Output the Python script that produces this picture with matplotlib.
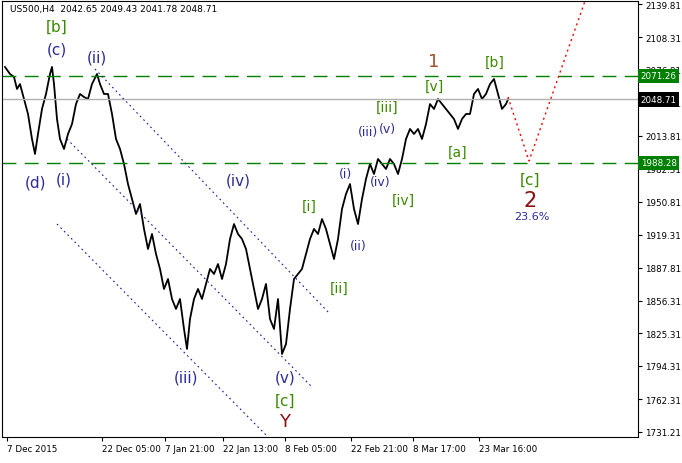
import matplotlib
matplotlib.use("Agg")
import matplotlib.pyplot as plt

bars = [3,8,12,15,18,22,26,30,33,36,40,44,48,50,52,55,58,62,66,70,74,78,82,86,90,95,98,102,106,110,114,118,122,126,130,134,138,142,146,150,154,158,162,166,170,174,178,182,185,188,192,196,200,204,208,212,216,220,224,228,232,236,240,244,248,252,256,260,264,268,272,276,280,284,288,292,296,300,304,308,312,316,320,324,328,332,336,340,344,348,352,356,360,364,368,372,376,380,384,388,392,396,400,404,408,412,416,420,424,428,432,436,440,444,448,452,456,460,464,468,472,476,480,484,488,492,496,500,504,506]
close = [2079.7,2073,2070.1,2058.7,2063.4,2049.1,2034.8,2010.9,1996.6,2015.7,2039.6,2053.9,2073,2079.7,2063.4,2030,2010.9,2001.4,2015.7,2025.2,2044.3,2053.9,2051,2049.1,2063.4,2073,2063.4,2053.9,2053.9,2034.8,2010.9,2001.4,1987.0,1967.9,1953.6,1939.3,1948.8,1925,1905.9,1920.2,1901.1,1886.8,1867.7,1877.2,1858.1,1848.6,1858.1,1829.5,1810.4,1839,1858.1,1867.7,1858.1,1872.5,1886.8,1882,1891.5,1877.2,1891.5,1915.4,1929.7,1920.2,1915.4,1905.9,1886.8,1867.7,1848.6,1858.1,1872.5,1839,1829.5,1858.1,1805.6,1815.1,1848.6,1877.2,1882,1886.8,1901.1,1915.4,1925,1920.2,1934.5,1925,1910.6,1896.3,1915.4,1944.1,1958.4,1967.9,1944.1,1929.7,1953.6,1972.7,1987,1977.5,1991.8,1987,1982.3,1991.8,1987,1977.5,1991.8,2010.9,2020.5,2015.7,2020.5,2010.9,2025.2,2044.3,2039.6,2049.1,2044.3,2039.6,2034.8,2030,2020.5,2030,2034.8,2034.8,2053.9,2058.7,2049.1,2053.9,2063.4,2068.2,2053.9,2039.6,2044.3,2048.7]
yticks = [2139.81,2108.31,2076.81,2045.31,2013.81,1982.31,1950.81,1919.31,1887.81,1856.31,1825.31,1794.31,1762.31,1731.21]
xtick_pos = [5,100,163,221,283,349,411,477]
xtick_lab = ["7 Dec 2015","22 Dec 05:00","7 Jan 21:00","22 Jan 13:00","8 Feb 05:00","22 Feb 21:00","8 Mar 17:00","23 Mar 16:00"]
level_hi, level_lo, last = 2071.26, 1988.28, 2048.71

def py(y):
    return 2142.7 - 0.955*(y-2)

fig = plt.figure(figsize=(6.82,4.64), dpi=100)
ax = fig.add_axes([2/682, 26/464, 636/682, 436/464])
ax.set_xlim(0, 636)
ax.set_ylim(py(438), py(2))
ax.plot(bars, close, color='black', lw=1.3)

ax.axhline(level_hi, color='#008000', lw=1, dashes=(10,6))
ax.axhline(level_lo, color='#008000', lw=1, dashes=(10,6))
ax.axhline(last, color='#b0b0b0', lw=1)

for (x0,y0,x1,y1) in [(93,70,328,315),(65,140,310,388),(55,225,265,437)]:
    ax.plot([x0,x1],[py(y0),py(y1)], color='#1a1aa0', lw=0.8, ls=(0,(1.5,3)))
ax.plot([506,527,583],[py(98),py(162),py(2)], color='red', lw=1, ls=(0,(1.5,2.5)))

G, N, R = '#3a8a00', '#2b2b9a', '#8b1010'
labels = [("[b]",55,27,G,11),("(c)",55,50,N,11),("(ii)",95,58,N,11),("(d)",33,183,N,11),
          ("(i)",62,180,N,11),("(iv)",236,181,N,11),("(iii)",184,378,N,11),("(v)",283,378,N,11),
          ("[c]",283,401,G,11),("Y",283,422,R,13),("(i)",343,175,N,9),("(ii)",356,247,N,9),
          ("(iii)",366,133,N,9),("(v)",385,130,N,9),("(iv)",378,183,N,9),("[i]",307,207,G,10),
          ("[ii]",337,289,G,10),("[iii]",385,108,G,10),("[iv]",401,201,G,10),("[v]",432,87,G,10),
          ("1",432,62,'#a0522d',13),("[a]",456,153,G,10),("[b]",493,63,G,10),("[c]",528,180,G,11),
          ("2",528,201,R,15),("23.6%",530,217,N,8)]
for t,x,y,c,s in labels:
    ax.text(x, py(y), t, color=c, fontsize=s, ha='center', va='center')

ax.text(8, py(10), "US500,H4  2042.65 2049.43 2041.78 2048.71", fontsize=6.5, va='center')

ax.yaxis.tick_right()
ax.set_yticks(yticks)
ax.set_yticklabels([f"{v:.2f}" for v in yticks], fontsize=6.3)
ax.set_xticks(xtick_pos)
ax.set_xticklabels(xtick_lab, fontsize=6.3, ha='left')
ax.tick_params(length=3, pad=2)
for v,fc in [(level_hi,'#008000'),(level_lo,'#008000'),(last,'black')]:
    ax.text(1.004, v, f"{v:.2f}", transform=ax.get_yaxis_transform(), fontsize=6.3, color='white',
            va='center', ha='left', zorder=10, clip_on=False,
            bbox=dict(boxstyle='square,pad=0.3', fc=fc, ec='none'))
fig.savefig("out.png", dpi=100)
